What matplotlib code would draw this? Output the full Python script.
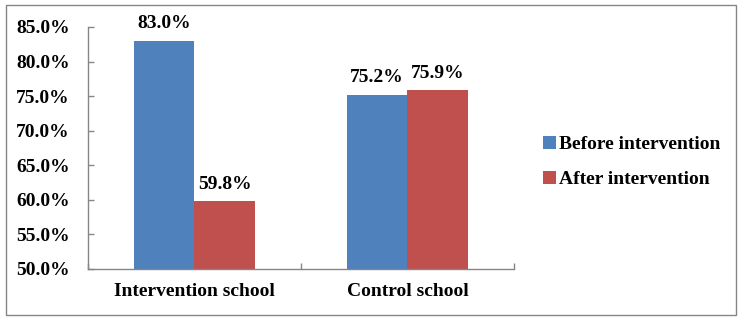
import numpy as np
import matplotlib
matplotlib.use("Agg")
import matplotlib.pyplot as plt
from matplotlib.patches import Rectangle

# ---------------------------------------------------------------------------
# Data
# ---------------------------------------------------------------------------
schools = ["Intervention school", "Control school"]
before = [83.0, 75.2]
after = [59.8, 75.9]
series_names = ["Before intervention", "After intervention"]
y_ticks = [50, 55, 60, 65, 70, 75, 80, 85]

BLUE = "#4F81BD"
RED = "#C0504D"
GRAY = "#868686"

plt.rcParams["font.family"] = ["Liberation Serif", "DejaVu Serif"]
plt.rcParams["font.weight"] = "bold"
FS = 14

fig = plt.figure(figsize=(7.43, 3.21), dpi=100)
ax = fig.add_axes([0.1184, 0.162, 0.5734, 0.7539])

x = np.arange(len(schools))
w = 0.286
b1 = ax.bar(x - w / 2, before, width=w, color=BLUE, label=series_names[0], bottom=0)
b2 = ax.bar(x + w / 2, after, width=w, color=RED, label=series_names[1], bottom=0)

for bars in (b1, b2):
    ax.bar_label(bars, labels=[f"{v:.1f}%" for v in bars.datavalues],
                 padding=6, fontsize=FS, fontweight="bold")

ax.set_ylim(50, 85)
ax.set_xlim(-0.5, 1.5)
ax.set_yticks(y_ticks)
ax.set_yticklabels([f"{v:.1f}%" for v in y_ticks], fontsize=FS, fontweight="bold")
ax.tick_params(axis="y", direction="in", length=4, width=1, color=GRAY, pad=13)

ax.set_xticks(x)
ax.set_xticklabels(schools, fontsize=FS, fontweight="bold")
ax.tick_params(axis="x", which="major", length=0, pad=10)
ax.set_xticks([-0.5, 0.5, 1.5], minor=True)
ax.tick_params(axis="x", which="minor", direction="in", length=4, width=1, color=GRAY)

for side in ("top", "right"):
    ax.spines[side].set_visible(False)
for side in ("left", "bottom"):
    ax.spines[side].set_color(GRAY)
    ax.spines[side].set_linewidth(1)

fig.legend(handles=[b1, b2], loc="center left", bbox_to_anchor=(0.731, 0.495),
           frameon=False, prop={"weight": "bold", "size": FS},
           handlelength=0.65, handleheight=0.65, handletextpad=0.15,
           labelspacing=0.9, borderpad=0, borderaxespad=0)

# outer chart border
fig.patches.append(Rectangle((6 / 743, 6 / 321), 730 / 743, 310 / 321,
                             transform=fig.transFigure, fill=False,
                             edgecolor=GRAY, linewidth=1))

fig.savefig("out.png", dpi=100)
